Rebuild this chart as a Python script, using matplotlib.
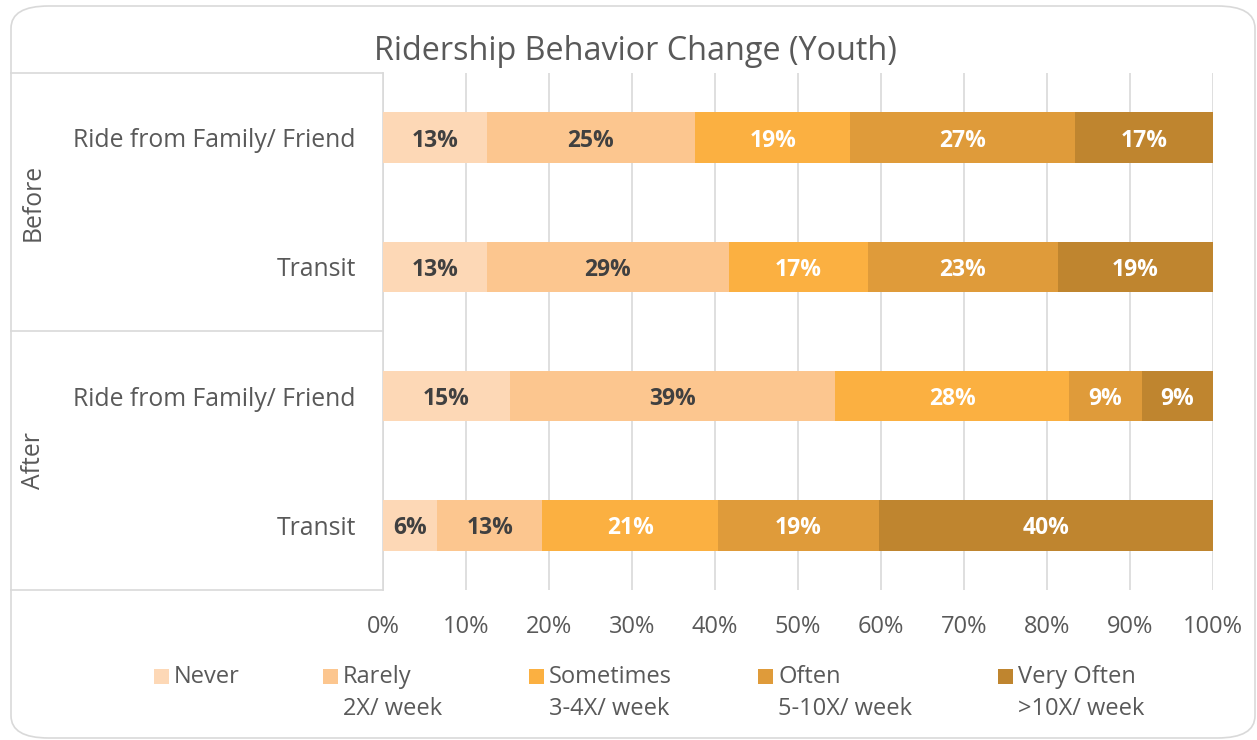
import matplotlib
matplotlib.use("Agg")
import matplotlib.pyplot as plt
from matplotlib.patches import FancyBboxPatch, Rectangle
from matplotlib.lines import Line2D
import numpy as np

plt.rcParams['font.family'] = ['Open Sans', 'DejaVu Sans']

title = "Ridership Behavior Change (Youth)"
groups = ["Before", "After"]
categories = ["Ride from Family/ Friend", "Transit", "Ride from Family/ Friend", "Transit"]
series_names = ["Never", "Rarely", "Sometimes", "Often", "Very Often"]
series_sub = ["", "2X/ week", "3-4X/ week", "5-10X/ week", ">10X/ week"]
colors = ["#FDD8B6", "#FCC68F", "#FBB041", "#DF9B3A", "#BF852F"]
label_colors = ["#404040", "#404040", "white", "white", "white"]

never      = [12.5, 12.5, 15.3, 6.5]
rarely     = [25.1, 29.2, 39.2, 12.7]
sometimes  = [18.7, 16.7, 28.2, 21.2]
often      = [27.1, 22.9, 8.7, 19.3]
very_often = [16.6, 18.7, 8.6, 40.3]
labels_pct = [
    ["13%", "13%", "15%", "6%"],
    ["25%", "29%", "39%", "13%"],
    ["19%", "17%", "28%", "21%"],
    ["27%", "23%", "9%", "19%"],
    ["17%", "19%", "9%", "40%"],
]
xticks = [0, 10, 20, 30, 40, 50, 60, 70, 80, 90, 100]

W, H = 1257, 740
fig = plt.figure(figsize=(W/100, H/100), dpi=100)

def fx(px): return px / W
def fy(py): return 1 - py / H

TXT = "#595959"

# outer rounded border
fig.add_artist(FancyBboxPatch((fx(11), fy(738)), fx(1255) - fx(11), fy(6) - fy(738),
                              boxstyle="round,pad=0,rounding_size=0.03",
                              transform=fig.transFigure, facecolor="white",
                              edgecolor="#D9D9D9", linewidth=1.2, zorder=0))

ax = fig.add_axes([fx(383), fy(590), fx(1213) - fx(383), fy(73) - fy(590)])
ax.set_facecolor("none")
data = [never, rarely, sometimes, often, very_often]
ypos = np.arange(len(categories))
left = np.zeros(len(categories))
for i, vals in enumerate(data):
    vals = np.array(vals)
    bars = ax.barh(ypos, vals, left=left, height=0.39, color=colors[i], zorder=3)
    for j, b in enumerate(bars):
        ax.text(left[j] + vals[j] / 2, ypos[j], labels_pct[i][j], ha="center", va="center_baseline",
                color=label_colors[i], fontsize=16.5, fontweight="bold", zorder=4)
    left += vals

ax.set_xlim(0, 100)
ax.set_ylim(len(categories) - 0.5, -0.5)
ax.set_xticks(xticks)
ax.set_xticklabels([f"{t}%" for t in xticks], fontsize=17, color=TXT)
ax.tick_params(axis="x", length=0, pad=18)
ax.set_yticks(ypos)
ax.set_yticklabels(categories, fontsize=17.8, color=TXT)
ax.tick_params(axis="y", length=0, pad=19.5)
ax.grid(axis="x", color="#D9D9D9", linewidth=1.2, zorder=0)
for s in ["top", "right", "bottom"]:
    ax.spines[s].set_visible(False)
ax.spines["left"].set_color("#D9D9D9")
ax.spines["left"].set_linewidth(1.2)

# category group box lines
for py in [73, 331, 590]:
    fig.add_artist(Line2D([fx(11), fx(383)], [fy(py), fy(py)], transform=fig.transFigure,
                          color="#D9D9D9", linewidth=1.2))
for g, (y0, y1) in zip(groups, [(73, 331), (331, 590)]):
    fig.text(fx(33), fy((y0 + y1) / 2), g, rotation=90, ha="center", va="center",
             fontsize=17.8, color=TXT)

fig.text(fx(635), fy(51), title, ha="center", va="center", fontsize=23.3, color=TXT)

# legend
lx = [154, 323, 529, 758, 998]
for i, name in enumerate(series_names):
    fig.add_artist(Rectangle((fx(lx[i]), fy(684)), fx(15), fy(669) - fy(684),
                             transform=fig.transFigure, facecolor=colors[i], edgecolor="none"))
    fig.text(fx(lx[i] + 20), fy(677), name, ha="left", va="center", fontsize=17, color=TXT)
    if series_sub[i]:
        fig.text(fx(lx[i] + 20), fy(709), series_sub[i], ha="left", va="center", fontsize=17, color=TXT)

fig.savefig("out.png", dpi=100)
